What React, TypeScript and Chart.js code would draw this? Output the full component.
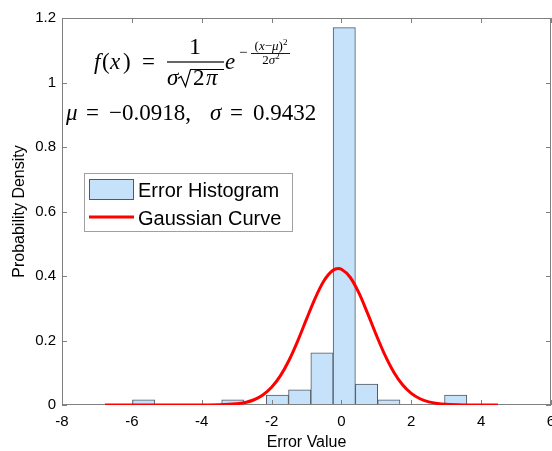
import React, { useEffect, useRef } from 'react';
import { Chart, registerables } from 'chart.js';

Chart.register(...registerables);

// ---- data ----
const binCenters = [-5.661, -5.023, -4.385, -3.747, -3.109, -2.471, -1.833, -1.195, -0.557, 0.081, 0.719, 1.357, 1.995, 2.633, 3.271];
const binDensity = [0.0157, 0, 0, 0, 0.0157, 0, 0.031, 0.047, 0.162, 1.17, 0.065, 0.0157, 0, 0, 0.031];

const gaussX = [-6.77, -5, -4, -3.5, -3, -2.75, -2.5, -2.25, -2, -1.75, -1.5, -1.25, -1, -0.75, -0.5, -0.25, -0.09, 0, 0.25, 0.5, 0.75, 1, 1.25, 1.5, 1.75, 2, 2.25, 2.5, 2.75, 3, 3.5, 4, 4.48];
const gaussY = [0, 0, 0.0001, 0.0006, 0.0037, 0.008, 0.0163, 0.0308, 0.0547, 0.0902, 0.1388, 0.1991, 0.2661, 0.3316, 0.3852, 0.4171, 0.423, 0.421, 0.3961, 0.3474, 0.284, 0.2165, 0.1538, 0.1018, 0.0629, 0.0362, 0.0194, 0.0097, 0.0045, 0.002, 0.0003, 0, 0];

const xRange = [-8, 6];
const xStep = 2;
const yRange = [0, 1.2];
const yStep = 0.2;

const legendLabels = ['Error Histogram', 'Gaussian Curve'];
const xTitle = 'Error Value';
const yTitle = 'Probability Density';
const muText = '\u22120.0918,';
const sigmaText = '0.9432';

// ---- styles ----
const BAR_FILL = '#c6e2fb';
const BAR_EDGE = '#52595f';
const CURVE = '#ff0000';
const AXIS = '#808080';
const SANS = '"Liberation Sans", Arial, Helvetica, sans-serif';
const SERIF = '"Liberation Serif", "Times New Roman", serif';

type Part = [string, boolean, number?];

function drawSeg(ctx: CanvasRenderingContext2D, x: number, y: number, parts: Part[], size: number) {
  let cx = x;
  for (const [t, it, sz] of parts) {
    const s = sz ?? size;
    ctx.font = `${it ? 'italic ' : ''}${s}px ${SERIF}`;
    ctx.fillText(t, cx, y);
    cx += ctx.measureText(t).width;
  }
  return cx;
}

function segWidth(ctx: CanvasRenderingContext2D, parts: Part[], size: number) {
  let w = 0;
  for (const [t, it, sz] of parts) {
    const s = sz ?? size;
    ctx.font = `${it ? 'italic ' : ''}${s}px ${SERIF}`;
    w += ctx.measureText(t).width;
  }
  return w;
}

const axesPlugin = {
  id: 'matlabAxes',
  afterDatasetDraw(chart: any, args: any) {
    if (args.meta.type !== 'bar') return;
    const { ctx, chartArea } = chart;
    const { left, right, top, bottom } = chartArea;
    ctx.save();
    ctx.strokeStyle = AXIS;
    ctx.lineWidth = 1;
    ctx.strokeRect(left + 0.5, top + 0.5, right - left - 1, bottom - top - 1);
    const tl = 5;
    ctx.beginPath();
    const xs = chart.scales.x;
    for (const t of xs.ticks) {
      const px = Math.round(xs.getPixelForValue(t.value)) + 0.5;
      ctx.moveTo(px, bottom);
      ctx.lineTo(px, bottom - tl);
      ctx.moveTo(px, top);
      ctx.lineTo(px, top + tl);
    }
    const ys = chart.scales.y;
    for (const t of ys.ticks) {
      const py = Math.round(ys.getPixelForValue(t.value)) + 0.5;
      ctx.moveTo(left, py);
      ctx.lineTo(left + tl, py);
      ctx.moveTo(right, py);
      ctx.lineTo(right - tl, py);
    }
    ctx.stroke();
    ctx.restore();
  },
};

const overlayPlugin = {
  id: 'overlay',
  afterDraw(chart: any) {
    const ctx: CanvasRenderingContext2D = chart.ctx;
    ctx.save();
    // ---- legend ----
    ctx.fillStyle = '#ffffff';
    ctx.fillRect(84.5, 173.5, 208, 58);
    ctx.strokeStyle = '#a0a0a0';
    ctx.lineWidth = 1;
    ctx.strokeRect(84.5, 173.5, 208, 58);
    ctx.fillStyle = BAR_FILL;
    ctx.fillRect(89.5, 179.5, 44, 20);
    ctx.strokeStyle = BAR_EDGE;
    ctx.strokeRect(89.5, 179.5, 44, 20);
    ctx.strokeStyle = CURVE;
    ctx.lineWidth = 3;
    ctx.beginPath();
    ctx.moveTo(89, 217);
    ctx.lineTo(134, 217);
    ctx.stroke();
    ctx.fillStyle = '#000';
    ctx.font = `20px ${SANS}`;
    ctx.textBaseline = 'alphabetic';
    ctx.textAlign = 'left';
    ctx.fillText(legendLabels[0], 138, 197);
    ctx.fillText(legendLabels[1], 138, 225);

    // ---- formula line 1 ----
    const S = 23;
    const b1 = 69;
    ctx.fillStyle = '#000';
    drawSeg(ctx, 94, b1, [['f', true]], S);
    drawSeg(ctx, 102, b1, [['(', false]], S);
    drawSeg(ctx, 110, b1, [['x', true]], S);
    drawSeg(ctx, 123, b1, [[')', false]], S);
    drawSeg(ctx, 142, b1, [['=', false]], S);
    // numerator
    ctx.textAlign = 'center';
    ctx.font = `${S + 1}px ${SERIF}`;
    ctx.fillText('1', 195, 54);
    ctx.textAlign = 'left';
    ctx.fillRect(167, 61.4, 57, 1.2);
    // denominator
    drawSeg(ctx, 167, 85, [['\u03c3', true]], S);
    ctx.strokeStyle = '#000';
    ctx.lineWidth = 1.2;
    ctx.beginPath();
    ctx.moveTo(178, 78.5);
    ctx.lineTo(181, 76.5);
    ctx.lineTo(185.5, 86.5);
    ctx.lineTo(190.5, 69.5);
    ctx.lineTo(224, 69.5);
    ctx.stroke();
    drawSeg(ctx, 193, 85, [['2', false]], S);
    drawSeg(ctx, 206, 85, [['\u03c0', true]], S);
    // e^{-...}
    drawSeg(ctx, 225, b1, [['e', true]], S);
    drawSeg(ctx, 239, 57, [['\u2212', false]], 15);
    const numParts: Part[] = [['(', false], ['x', true], ['\u2212', false], ['\u03bc', true], [')', false], ['2', false, 9]];
    const nw = segWidth(ctx, numParts, 13);
    let cx = 271 - nw / 2;
    cx = drawSeg(ctx, cx, 50, numParts.slice(0, 5), 13);
    drawSeg(ctx, cx, 45, [['2', false]], 9);
    ctx.fillRect(251, 53, 39, 0.9);
    const denParts: Part[] = [['2', false], ['\u03c3', true], ['2', false, 9]];
    const dw = segWidth(ctx, denParts, 13);
    cx = 271 - dw / 2;
    cx = drawSeg(ctx, cx, 64, denParts.slice(0, 2), 13);
    drawSeg(ctx, cx, 59, [['2', false]], 9);

    // ---- formula line 2 ----
    const b2 = 120;
    drawSeg(ctx, 66, b2, [['\u03bc', true]], S);
    drawSeg(ctx, 86, b2, [['=', false]], S);
    drawSeg(ctx, 109, b2, [[muText, false]], S);
    drawSeg(ctx, 210, b2, [['\u03c3', true]], S);
    drawSeg(ctx, 230, b2, [['=', false]], S);
    drawSeg(ctx, 253, b2, [[sigmaText, false]], S);
    ctx.restore();
  },
};

export default function App() {
  const ref = useRef<HTMLCanvasElement>(null);
  useEffect(() => {
    const canvas = ref.current!;
    const chart = new Chart(canvas, {
      type: 'bar',
      data: {
        datasets: [
          {
            type: 'line',
            label: legendLabels[1],
            data: gaussX.map((x, i) => ({ x, y: gaussY[i] })),
            borderColor: CURVE,
            backgroundColor: CURVE,
            borderWidth: 3,
            pointRadius: 0,
            cubicInterpolationMode: 'monotone',
            fill: false,
            order: 0,
          } as any,
          {
            type: 'bar',
            label: legendLabels[0],
            data: binCenters.map((x, i) => ({ x, y: binDensity[i] })),
            backgroundColor: BAR_FILL,
            borderColor: BAR_EDGE,
            borderWidth: 1,
            borderSkipped: false,
            barPercentage: 1,
            categoryPercentage: 1,
            order: 1,
          } as any,
        ],
      },
      options: {
        responsive: false,
        animation: false,
        devicePixelRatio: 1,
        layout: { padding: { top: 18, right: 1, bottom: 0, left: 0 } },
        plugins: { legend: { display: false }, tooltip: { enabled: false } },
        scales: {
          x: {
            type: 'linear',
            offset: false,
            min: xRange[0],
            max: xRange[1],
            grid: { display: false, drawTicks: false, offset: false },
            border: { display: false },
            ticks: {
              stepSize: xStep,
              padding: 8,
              color: '#000',
              autoSkip: false,
              maxRotation: 0,
              font: { family: SANS, size: 15 },
              callback: (v: any) => String(v),
            },
            title: {
              display: true,
              text: xTitle,
              color: '#000',
              font: { family: SANS, size: 16, lineHeight: 1 },
              padding: { top: 0, bottom: 0 },
            },
            afterFit: (s: any) => {
              s.height = 46;
              s.paddingLeft = 0;
              s.paddingRight = 0;
            },
          },
          y: {
            type: 'linear',
            min: yRange[0],
            max: yRange[1],
            grid: { display: false, drawTicks: false },
            border: { display: false },
            ticks: {
              stepSize: yStep,
              padding: 6,
              color: '#000',
              font: { family: SANS, size: 15 },
              callback: (v: any) => String(Math.round(Number(v) * 10) / 10),
            },
            title: {
              display: true,
              text: yTitle,
              color: '#000',
              font: { family: SANS, size: 16, lineHeight: 1 },
              padding: { top: 12, bottom: 0 },
            },
            afterFit: (s: any) => {
              s.width = 62;
              s.paddingTop = 0;
              s.paddingBottom = 0;
            },
          },
        },
      } as any,
      plugins: [axesPlugin, overlayPlugin],
    });
    return () => chart.destroy();
  }, []);
  return (
    <div style={{ position: 'fixed', left: 0, top: 0, width: 552, height: 451, background: '#fff' }}>
      <canvas ref={ref} width={552} height={451} style={{ display: 'block', width: 552, height: 451 }} />
    </div>
  );
}
